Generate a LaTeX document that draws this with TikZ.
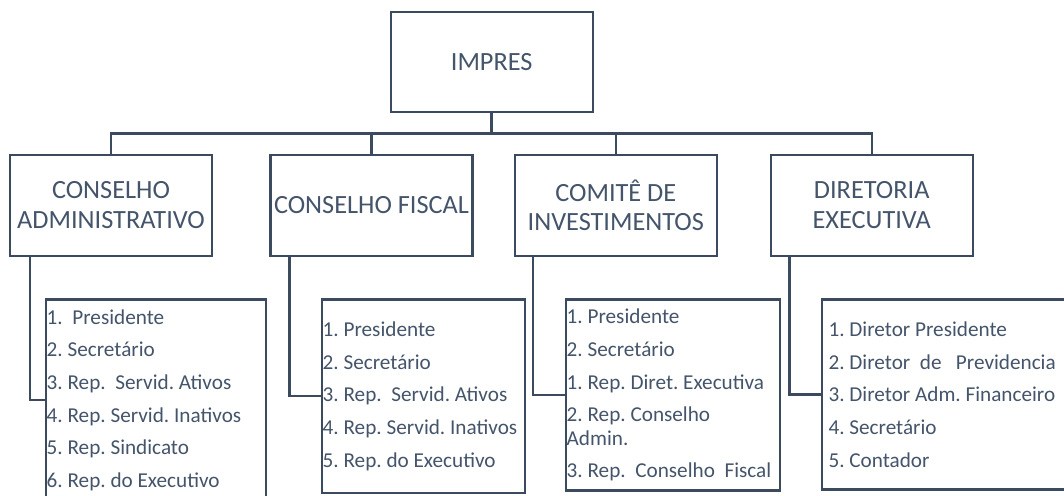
\documentclass[tikz,border=0pt]{standalone}
\usepackage{fontspec}
\setmainfont{Carlito}
\usepackage{xcolor}
\usepackage{tikz}
\usetikzlibrary{positioning,calc}

\definecolor{slate}{HTML}{44546A}
\definecolor{slateline}{HTML}{3B4A5E}

\tikzset{
  orgbox/.style={draw=slateline, line width=2.4pt, text=slate, align=center, inner sep=0pt,
    minimum width=202pt, minimum height=101pt, font=\fontsize{26.3}{29.5}\selectfont},
  listbox/.style={draw=slateline, line width=2.4pt, text=slate, align=flush left, anchor=north west,
    inner ysep=0pt, font=\frenchspacing\fontsize{21.2}{25.4}\selectfont},
  orgline/.style={draw=slateline, line width=2.4pt}
}

\begin{document}
\begin{tikzpicture}[x=1pt, y=-1pt]
\useasboundingbox (0,0) rectangle (1064,495);

% Top
\node[orgbox, minimum height=99.4pt] (impres) at (491.7,62) {IMPRES};

% Second level
\node[orgbox] (cadm) at (111,205.2) {CONSELHO\\ADMINISTRATIVO};
\node[orgbox] (cfis) at (371.5,205.2) {CONSELHO FISCAL};
\node[orgbox] (ccomi) at (615.8,205.2) {COMITÊ DE\\INVESTIMENTOS};
\node[orgbox] (dexec) at (871.7,205.2) {DIRETORIA\\EXECUTIVA};

% Member lists
\node[listbox, inner xsep=0.5pt, text width=219pt, minimum height=201.4pt] (lcadm) at (45,298.3)
  {1.~ Presidente\\[7.3pt]2. Secretário\\[7.3pt]3. Rep.~ Servid. Ativos\\[7.3pt]4. Rep. Servid. Inativos\\[7.3pt]5. Rep. Sindicato\\[7.3pt]6. Rep. do Executivo};
\node[listbox, inner xsep=0.5pt, text width=201.5pt, minimum height=193.4pt] (lcfis) at (321,298.3)
  {1. Presidente\\[7.3pt]2. Secretário\\[7.3pt]3. Rep.~ Servid. Ativos\\[7.3pt]4. Rep. Servid. Inativos\\[7.3pt]5. Rep. do Executivo};
\node[listbox, inner xsep=0.5pt, text width=213pt, minimum height=191pt] (lccomi) at (565,298.3)
  {1. Presidente\\[7.3pt]2. Secretário\\[7.3pt]1. Rep. Diret. Executiva\\[7.3pt]2. Rep. Conselho\\[-2pt]Admin.\\[7pt]3. Rep.~ Conselho~ Fiscal};
\node[listbox, inner xsep=6.3pt, text width=250pt, minimum height=190pt] (ldexec) at (821,298.3)
  {1. Diretor Presidente\\[7.3pt]2. Diretor~ de~~ Previdencia\\[7.3pt]3. Diretor Adm. Financeiro\\[7.3pt]4. Secretário\\[7.3pt]5. Contador};

% Connectors
\coordinate (bus) at (491.7,133.3);
\draw[orgline, line width=3pt] (impres.south) -- (bus);
\draw[orgline] (cadm.north) |- (bus) -| (dexec.north);
\draw[orgline] (cfis.north) -- (cfis.north |- bus);
\draw[orgline] (ccomi.north) -- (ccomi.north |- bus);

\draw[orgline] ([xshift=21pt]cadm.south west) |- (lcadm.west);
\draw[orgline] ([xshift=20.3pt]cfis.south west) |- (lcfis.west);
\draw[orgline] ([xshift=19.3pt]ccomi.south west) |- (lccomi.west);
\draw[orgline] ([xshift=20pt]dexec.south west) |- (ldexec.west);
\end{tikzpicture}
\end{document}
